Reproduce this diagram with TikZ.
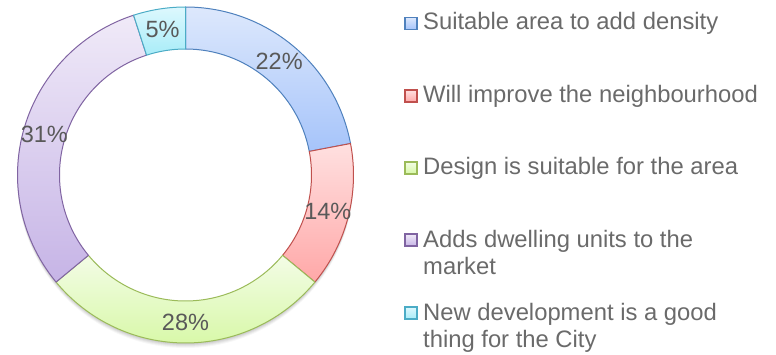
\documentclass[tikz,border=0pt]{standalone}
\usepackage{fontspec}
\setmainfont{Liberation Sans}
\usetikzlibrary{positioning}
\definecolor{txt}{HTML}{595959}
\definecolor{keytxt}{HTML}{6A6A6A}
\definecolor{blueline}{HTML}{4F81BD}
\definecolor{bluetop}{HTML}{DDE8FC}
\definecolor{bluebot}{HTML}{A6C4FA}
\definecolor{redline}{HTML}{C0504D}
\definecolor{redtop}{HTML}{FFE0E0}
\definecolor{redbot}{HTML}{FFA8A8}
\definecolor{greenline}{HTML}{9BBB59}
\definecolor{greentop}{HTML}{F3FCE6}
\definecolor{greenbot}{HTML}{D6F8A4}
\definecolor{purpleline}{HTML}{8064A2}
\definecolor{purpletop}{HTML}{F0EAF8}
\definecolor{purplebot}{HTML}{C6B4E6}
\definecolor{cyanline}{HTML}{4BACC6}
\definecolor{cyantop}{HTML}{DDF8FE}
\definecolor{cyanbot}{HTML}{A8ECF8}

\begin{document}
\begin{tikzpicture}[x=1pt,y=1pt,
   seg/.style={draw=#1line,top color=#1top,bottom color=#1bot,line width=1pt,line join=round},
   key/.style={draw=#1line,top color=#1top,bottom color=#1bot,line width=1.3pt,minimum size=12,inner sep=0pt},
   pct/.style={text=txt,font=\fontsize{23.5}{27}\selectfont,inner sep=0pt},
   entry/.style={text=keytxt,font=\fontsize{23.8}{27}\selectfont,inner sep=0pt,align=left,anchor=base west}]
   \useasboundingbox (0,0) rectangle (776,354);
   \begin{scope}[shift={(185.5,179)}]
   % shadow under the ring
   \foreach \o/\a in {1/.05,2/.05,3/.05,4/.04,5/.03}
      \fill[black,opacity=\a] (0,-\o) circle[radius=168];
   \fill[white] (0,0) circle[radius=126];
   % ring
   \draw[seg=blue]   (90:168) arc[start angle=90,end angle=10.8,radius=168] -- (10.8:126) arc[start angle=10.8,end angle=90,radius=126] -- cycle;
   \draw[seg=red]    (10.8:168) arc[start angle=10.8,end angle=-39.6,radius=168] -- (-39.6:126) arc[start angle=-39.6,end angle=10.8,radius=126] -- cycle;
   \draw[seg=green]  (-39.6:168) arc[start angle=-39.6,end angle=-140.4,radius=168] -- (-140.4:126) arc[start angle=-140.4,end angle=-39.6,radius=126] -- cycle;
   \draw[seg=purple] (-140.4:168) arc[start angle=-140.4,end angle=-252,radius=168] -- (-252:126) arc[start angle=-252,end angle=-140.4,radius=126] -- cycle;
   \draw[seg=cyan]   (-252:168) arc[start angle=-252,end angle=-270,radius=168] -- (-270:126) arc[start angle=-270,end angle=-252,radius=126] -- cycle;
   % labels
   \node[pct] (p1) at (50.4:147)   {22\%};
   \node[pct] (p2) at (-14.4:147)  {14\%};
   \node[pct] (p3) at (-90:147)    {28\%};
   \node[pct] (p4) at (163.8:147)  {31\%};
   \node[pct] (p5) at (99:147)     {5\%};
   \end{scope}
   % legend
   \node[key=blue]   (k1) at (411,330.7) {};
   \node[key=red]    (k2) at (411,258)   {};
   \node[key=green]  (k3) at (411,186)   {};
   \node[key=purple] (k4) at (411,114)   {};
   \node[key=cyan]   (k5) at (411,41)    {};
   \node[entry] (t1) at (423,324) {Suitable area to add density};
   \node[entry] (t2) at (423,251) {Will improve the neighbourhood};
   \node[entry] (t3) at (423,179) {Design is suitable for the area};
   \node[entry] (t4) at (423,80)  {Adds dwelling units to the\\market};
   \node[entry] (t5) at (423,7)   {New development is a good\\thing for the City};
\end{tikzpicture}
\end{document}
